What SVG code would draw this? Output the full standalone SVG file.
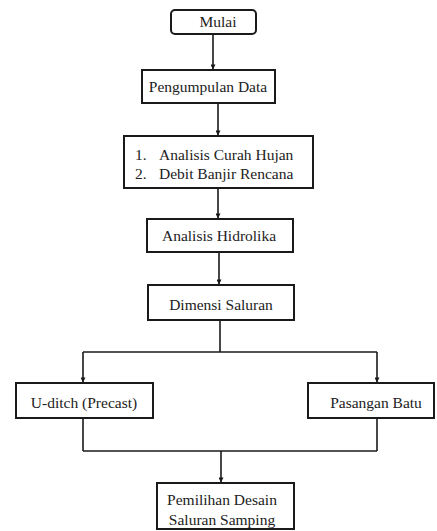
<svg xmlns="http://www.w3.org/2000/svg" width="437" height="531" viewBox="0 0 437 531">
  <style>
    .box { fill: #ffffff; stroke: #1a1a1a; stroke-width: 2; }
    .lbl { font-family: 'Liberation Serif', 'Tinos', 'DejaVu Serif', 'Times New Roman', Times, serif; font-size: 15.5px; fill: #222222; }
    .mid { text-anchor: middle; }
    .wire { fill: none; stroke: #1a1a1a; stroke-width: 1.6; }
  </style>
  <defs>
    <marker id="arrow" viewBox="0 0 6 6" refX="5.5" refY="3" markerWidth="5" markerHeight="5" markerUnits="userSpaceOnUse" orient="auto">
      <path d="M0,0 L6,3 L0,6 Z" fill="#1a1a1a"/>
    </marker>
  </defs>
  <rect width="437" height="531" fill="#ffffff"/>

  <!-- connectors -->
  <g id="connectors">
    <path class="wire" d="M213,34 V69" marker-end="url(#arrow)"/>
    <path class="wire" d="M218,103 V135" marker-end="url(#arrow)"/>
    <path class="wire" d="M218,188 V218" marker-end="url(#arrow)"/>
    <path class="wire" d="M219,252 V284" marker-end="url(#arrow)"/>
    <path class="wire" d="M220,320 V352"/>
    <path class="wire" d="M83,352 H377"/>
    <path class="wire" d="M83,352 V382" marker-end="url(#arrow)"/>
    <path class="wire" d="M377,352 V382" marker-end="url(#arrow)"/>
    <path class="wire" d="M83,418 V451"/>
    <path class="wire" d="M377,418 V451"/>
    <path class="wire" d="M83,451 H377"/>
    <path class="wire" d="M221,451 V482" marker-end="url(#arrow)"/>
  </g>

  <g id="mulai">
    <rect class="box" x="171" y="10" width="85" height="24" rx="4"/>
    <text class="lbl mid" x="218" y="27">Mulai</text>
  </g>

  <g id="pengumpulan-data">
    <rect class="box" x="142" y="70" width="133" height="33"/>
    <text class="lbl mid" x="208" y="92">Pengumpulan Data</text>
  </g>

  <g id="analisis-debit">
    <rect class="box" x="124" y="136" width="189" height="52"/>
    <text class="lbl" x="135" y="160">1.</text>
    <text class="lbl" x="159" y="160">Analisis Curah Hujan</text>
    <text class="lbl" x="135" y="179">2.</text>
    <text class="lbl" x="159" y="179">Debit Banjir Rencana</text>
  </g>

  <g id="analisis-hidrolika">
    <rect class="box" x="147" y="219" width="146" height="33"/>
    <text class="lbl mid" x="219" y="241">Analisis Hidrolika</text>
  </g>

  <g id="dimensi-saluran">
    <rect class="box" x="148" y="285" width="146" height="35"/>
    <text class="lbl mid" x="221" y="310">Dimensi Saluran</text>
  </g>

  <g id="u-ditch">
    <rect class="box" x="16" y="383" width="137" height="35"/>
    <text class="lbl mid" x="84" y="408">U-ditch (Precast)</text>
  </g>

  <g id="pasangan-batu">
    <rect class="box" x="308" y="383" width="126" height="35"/>
    <text class="lbl mid" x="376" y="408">Pasangan Batu</text>
  </g>

  <g id="pemilihan-desain">
    <rect class="box" x="157" y="483" width="137" height="46"/>
    <text class="lbl mid" x="222" y="505">Pemilihan Desain</text>
    <text class="lbl mid" x="222" y="525">Saluran Samping</text>
  </g>
</svg>
